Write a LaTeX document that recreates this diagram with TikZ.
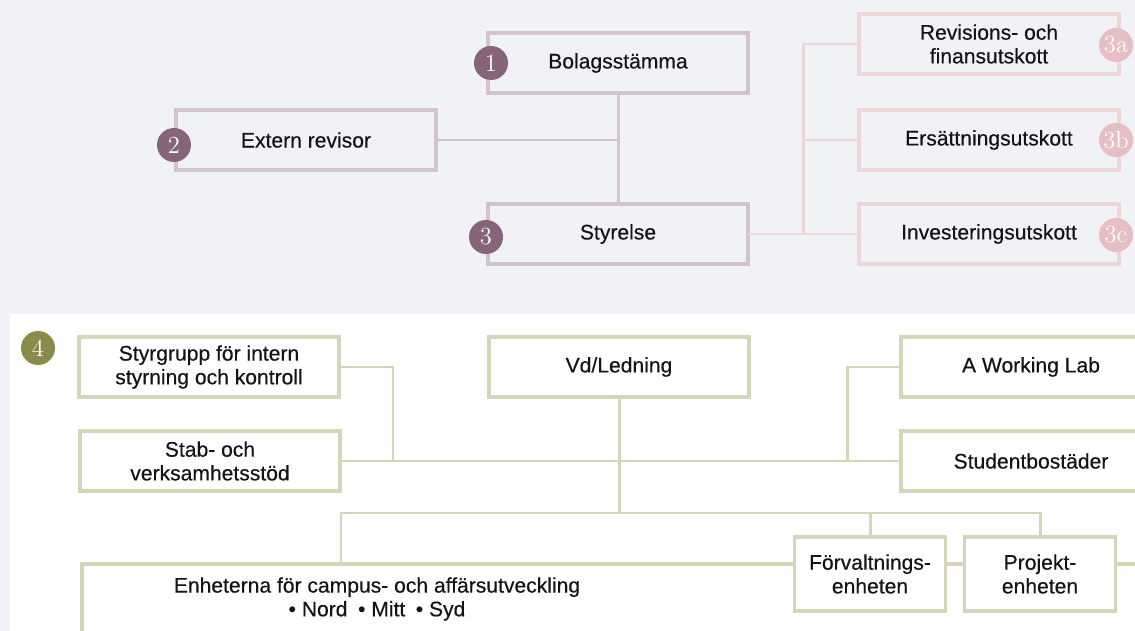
\documentclass[tikz,border=0pt]{standalone}
\usepackage{fontspec}
\newfontfamily\lab[FakeBold=0.35]{Liberation Sans}
\usetikzlibrary{positioning}
\definecolor{bgr}{HTML}{F1F2F6}
\definecolor{mauve}{HTML}{D3C3CC}
\definecolor{mauved}{HTML}{866479}
\definecolor{rose}{HTML}{EDD5D9}
\definecolor{rosed}{HTML}{E6BEC3}
\definecolor{olive}{HTML}{D6D4B9}
\definecolor{olived}{HTML}{8A8A4B}
\definecolor{txt}{HTML}{141414}
\tikzset{lnk/.style={line width=1.7pt, line cap=rect}}

\begin{document}
\begin{tikzpicture}[x=0.02cm, y=-0.02cm,
     box/.style={line width=2.1pt, minimum width=5.2cm, minimum height=1.2cm,
        align=center, inner sep=0pt, text=txt, font=\lab\fontsize{12}{13.5}\selectfont},
     mbox/.style={box, draw=mauve, fill=bgr},
     pbox/.style={box, draw=rose, fill=bgr},
     obox/.style={box, draw=olive, fill=white},
     sbox/.style={obox, minimum width=3.02cm, minimum height=1.48cm},
     mline/.style={lnk, mauve},
     pline/.style={lnk, rose},
     oline/.style={lnk, olive},
     bdg/.style={circle, minimum size=0.68cm, inner sep=0pt, text=white,
        font=\fontsize{14}{14}\selectfont}]
  \useasboundingbox (0,0) rectangle (1135,631);
  \clip (0,0) rectangle (1135,631);
  \fill[bgr] (0,0) rectangle (1135,631);
  \fill[white] (10,314) rectangle (1135,631);

  % owners and board
  \node[mbox] (bol) at (618,63) {Bolagsstämma};
  \node[mbox] (ext) at (306,140) {Extern revisor};
  \node[mbox] (sty) at (618,234) {Styrelse};
  \node[pbox] (c1) at (989,44) {Revisions- och\\finansutskott};
  \node[pbox] (c2) at (989,140) {Ersättningsutskott};
  \node[pbox] (c3) at (989,234) {Investeringsutskott};
  \coordinate (cj) at (803,234);

  \draw[mline] (bol) -- (sty);
  \draw[mline] (ext.east) -- (ext.east -| bol.south);
  \draw[pline] (sty.east) -- (c3.west);
  \draw[pline] (c1.west) -| (cj);
  \draw[pline] (c2.west) -- (c2.west -| cj);

  \node[bdg, fill=mauved] (n1) at (491,63) {1};
  \node[bdg, fill=mauved] (n2) at (174,145) {2};
  \node[bdg, fill=mauved] (n3) at (486,237) {3};
  \node[bdg, fill=rosed] (n3a) at (1116,45) {3a};
  \node[bdg, fill=rosed] (n3b) at (1116,140) {3b};
  \node[bdg, fill=rosed] (n3c) at (1116,235) {3c};

  % management
  \node[obox] (styr) at (209,367) {Styrgrupp för intern\\styrning och kontroll};
  \node[obox] (stab) at (210,461) {Stab- och\\verksamhetsstöd};
  \node[obox] (vd) at (619,367) {Vd/Ledning};
  \node[obox] (awl) at (1031,367) {A Working Lab};
  \node[obox] (stud) at (1031,461) {Studentbostäder};
  \node[obox, anchor=north west, minimum width=22cm, minimum height=3cm] (enh) at (80,562) {};
  \node[font=\lab\fontsize{12}{13.5}\selectfont, text=txt, align=center] (enht) at (377,599)
     {Enheterna för campus- och affärsutveckling\\• Nord\enspace • Mitt\enspace • Syd};
  \node[sbox] (forv) at (870,574) {Förvaltnings-\\enheten};
  \node[sbox] (proj) at (1040,574) {Projekt-\\enheten};
  \coordinate (jl) at (393,461);
  \coordinate (jr) at (847,461);
  \coordinate (bus) at (341,513);

  \draw[oline] (stab.east) -- (stud.west);
  \draw[oline] (styr.east) -| (jl);
  \draw[oline] (awl.west) -| (jr);
  \draw[oline] (vd.south) -- (vd.south |- bus);
  \draw[oline] (enh.north -| bus) -- (bus) -| (proj.north);
  \draw[oline] (forv.north) -- (forv.north |- bus);

  \node[bdg, fill=olived] (n4) at (38,348) {4};
\end{tikzpicture}
\end{document}
